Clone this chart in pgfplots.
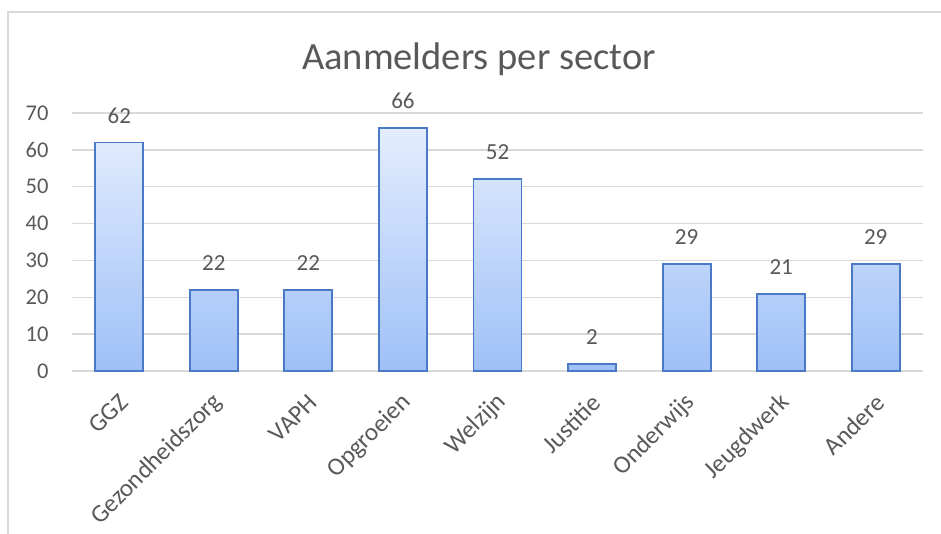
\documentclass[border=0pt]{standalone}
\usepackage{pgfplots}
\pgfplotsset{compat=1.18}
\usepackage{fontspec}
\setmainfont{Carlito}
\definecolor{txtgray}{HTML}{595959}
\definecolor{gridgray}{HTML}{D9D9D9}
\definecolor{barline}{HTML}{4A79C8}
\definecolor{bartop}{HTML}{E3EDFD}
\definecolor{barbot}{HTML}{9FC0F7}
\begin{document}
\begin{tikzpicture}
\path[use as bounding box] (-72bp,-163bp) rectangle (869bp,371bp);
\draw[gridgray, line width=1.2bp] (-64bp,-163bp) -- (-64bp,359bp) -- (869bp,359bp);
\begin{axis}[
  scale only axis,
  width=851bp, height=258bp,
  ymin=0, ymax=70,
  xmin=-0.5, xmax=8.5,
  ytick={0,10,...,70},
  xtick=data,
  xticklabels={GGZ,Gezondheidszorg,VAPH,Opgroeien,Welzijn,Justitie,Onderwijs,Jeugdwerk,Andere},
  ymajorgrids,
  grid style={gridgray, line width=1.5bp},
  axis line style={draw=none},
  axis x line*=bottom,
  axis y line*=left,
  major tick length=0pt,
  /pgf/number format/assume math mode=true,
  yticklabel style={font=\fontsize{22.5bp}{26bp}\selectfont, text=txtgray, xshift=-20bp},
  xticklabel style={font=\fontsize{25bp}{30bp}\selectfont, text=txtgray, xshift=6bp, yshift=-26bp, rotate=45, anchor=east, inner sep=2bp},
  ybar, bar width=48bp,
  nodes near coords,
  nodes near coords style={font=\fontsize{23bp}{27bp}\selectfont, text=txtgray, yshift=15bp},
  clip=false,
]
\draw[gridgray, line width=1.5bp] (axis cs:-0.5,0) -- (axis cs:8.5,0);
\addplot[draw=barline, line width=1.8bp, top color=bartop, bottom color=barbot] coordinates {
(0,62) (1,22) (2,22) (3,66) (4,52) (5,2) (6,29) (7,21) (8,29)};
\end{axis}
\node[anchor=base, text=txtgray, font=\fontsize{38.5bp}{46bp}\selectfont] at (407bp,301bp) {Aanmelders per sector};
\end{tikzpicture}
\end{document}
